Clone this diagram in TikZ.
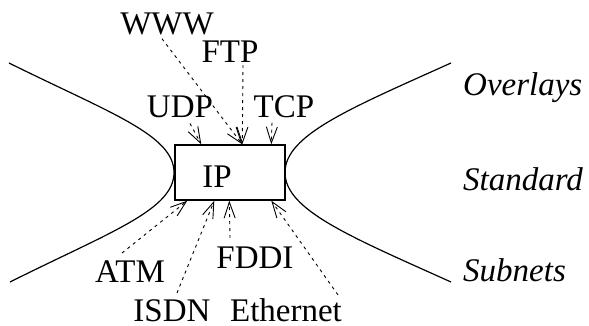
\documentclass[tikz,border=0pt]{standalone}
\usepackage{fontspec}
\setmainfont{Liberation Serif}
\usetikzlibrary{arrows.meta}
\begin{document}
\begin{tikzpicture}[x=1pt,y=-1pt,
  lbl/.style={inner sep=0pt, anchor=base, font=\fontsize{33}{36}\selectfont},
  side/.style={inner sep=0pt, anchor=base west, font=\fontsize{33}{36}\selectfont\itshape},
  ipbox/.style={draw, line width=1.4pt, minimum width=110pt, minimum height=55pt, inner sep=0pt},
  curve/.style={line width=1.2pt},
  feed/.style={line width=0.9pt, dash pattern=on 3pt off 4pt, -{Straight Barb[length=16pt,width=11pt]}}
]
\useasboundingbox (0,0) rectangle (589,326);
% hourglass curves
\draw[curve] (9,63) .. controls (110,113) and (174,135) .. (174,172.5)
             .. controls (174,210) and (110,232) .. (10,282);
\draw[curve] (451,63) .. controls (350,108.5) and (285,135) .. (285,172.5)
             .. controls (285,210) and (350,236.5) .. (451,282);
% box
\node[ipbox] (box) at (230,172.5) {};
\node[lbl] (ip) at (217,187) {IP};
% top labels
\node[lbl] (www) at (167,35) {WWW};
\node[lbl] (ftp) at (230,63) {FTP};
\node[lbl] (udp) at (180,118) {UDP};
\node[lbl] (tcp) at (284,118) {TCP};
% bottom labels
\node[lbl] (atm) at (130,282) {ATM};
\node[lbl] (fddi) at (255,268) {FDDI};
\node[lbl] (isdn) at (172,321.5) {ISDN};
\node[lbl] (eth) at (286,321.5) {Ethernet};
% side labels
\node[side] (ov) at (463,96) {Overlays};
\node[side] (st) at (463,190) {Standard};
\node[side] (sn) at (463,281) {Subnets};
% arrows into box
\draw[feed] ([xshift=-5pt,yshift=-3pt]www.south) -- ([xshift=68pt]box.north west);
\draw[feed] ([xshift=13pt,yshift=-2pt]ftp.south) -- ([xshift=68pt]box.north west);
\draw[feed] ([xshift=10pt,yshift=-5pt]udp.south) -- ([xshift=27pt]box.north west);
\draw[feed] ([xshift=-12pt,yshift=-4pt]tcp.south) -- ([xshift=97pt]box.north west);
\draw[feed] ([xshift=-8pt,yshift=7pt]atm.north) -- ([xshift=13pt]box.south west);
\draw[feed] ([xshift=5pt,yshift=6.5pt]isdn.north) -- ([xshift=40pt]box.south west);
\draw[feed] ([xshift=-25pt,yshift=8pt]fddi.north) -- ([xshift=55pt]box.south west);
\draw[feed] ([xshift=52pt,yshift=3.5pt]eth.north) -- ([xshift=97pt]box.south west);
\end{tikzpicture}
\end{document}
